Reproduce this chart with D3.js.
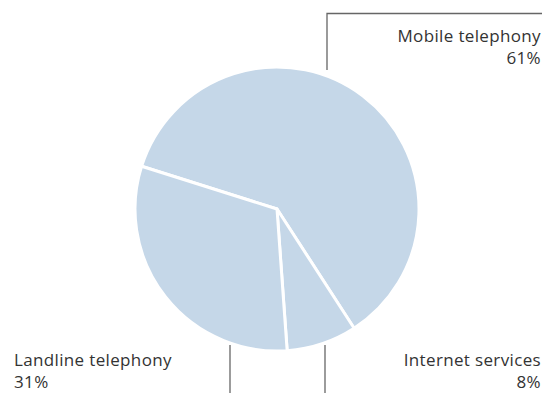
<!DOCTYPE html>
<html>
<head>
<meta charset="utf-8">
<script src="https://cdn.jsdelivr.net/npm/d3@7"></script>
<style>
  html, body { margin: 0; padding: 0; background: #fff; }
  svg { display: block; }
  text { font-family: "Open Sans", "Noto Sans", sans-serif; fill: #333; }
</style>
</head>
<body>
<svg id="chart" width="545" height="393"></svg>
<script>
// Revenue shares by service
const categories = ["Mobile telephony", "Internet services", "Landline telephony"];
const shares = [61, 8, 31];
const shareLabels = ["61%", "8%", "31%"];

const width = 545, height = 393;
const cx = 277, cy = 209, radius = 142;

const svg = d3.select("#chart");

const pie = d3.pie().sort(null).value(d => d)
  .startAngle(-72.5 * Math.PI / 180)
  .endAngle(287.5 * Math.PI / 180);
const arc = d3.arc().innerRadius(0).outerRadius(radius);

const g = svg.append("g").attr("transform", `translate(${cx},${cy})`);
g.selectAll("path")
  .data(pie(shares))
  .join("path")
  .attr("d", arc)
  .attr("fill", "#c5d7e8")
  .attr("stroke", "#fff")
  .attr("stroke-width", 3)
  .attr("stroke-linejoin", "round");

// Leader lines
const lineColor = "#666";
const leaders = [
  [[327, 70], [327, 13.5], [542, 13.5]],
  [[325, 345], [325, 393]],
  [[230, 345], [230, 393]]
];
svg.append("g").selectAll("path")
  .data(leaders)
  .join("path")
  .attr("d", d3.line())
  .attr("fill", "none")
  .attr("stroke", lineColor)
  .attr("stroke-width", 1.3);

// Labels: name on the first line, share below
const labelPos = [
  { x: 541, y: 41.5, anchor: "end" },
  { x: 541, y: 365.5, anchor: "end" },
  { x: 14, y: 365.5, anchor: "start" }
];
const lg = svg.append("g");
categories.forEach((c, i) => {
  const p = labelPos[i];
  const t = lg.append("text")
    .attr("x", p.x).attr("y", p.y)
    .attr("text-anchor", p.anchor)
    .attr("font-size", 17)
    .attr("letter-spacing", 0.35);
  t.append("tspan").attr("x", p.x).text(c);
  t.append("tspan").attr("x", p.x).attr("dy", 22.5).text(shareLabels[i]);
});
</script>
</body>
</html>
